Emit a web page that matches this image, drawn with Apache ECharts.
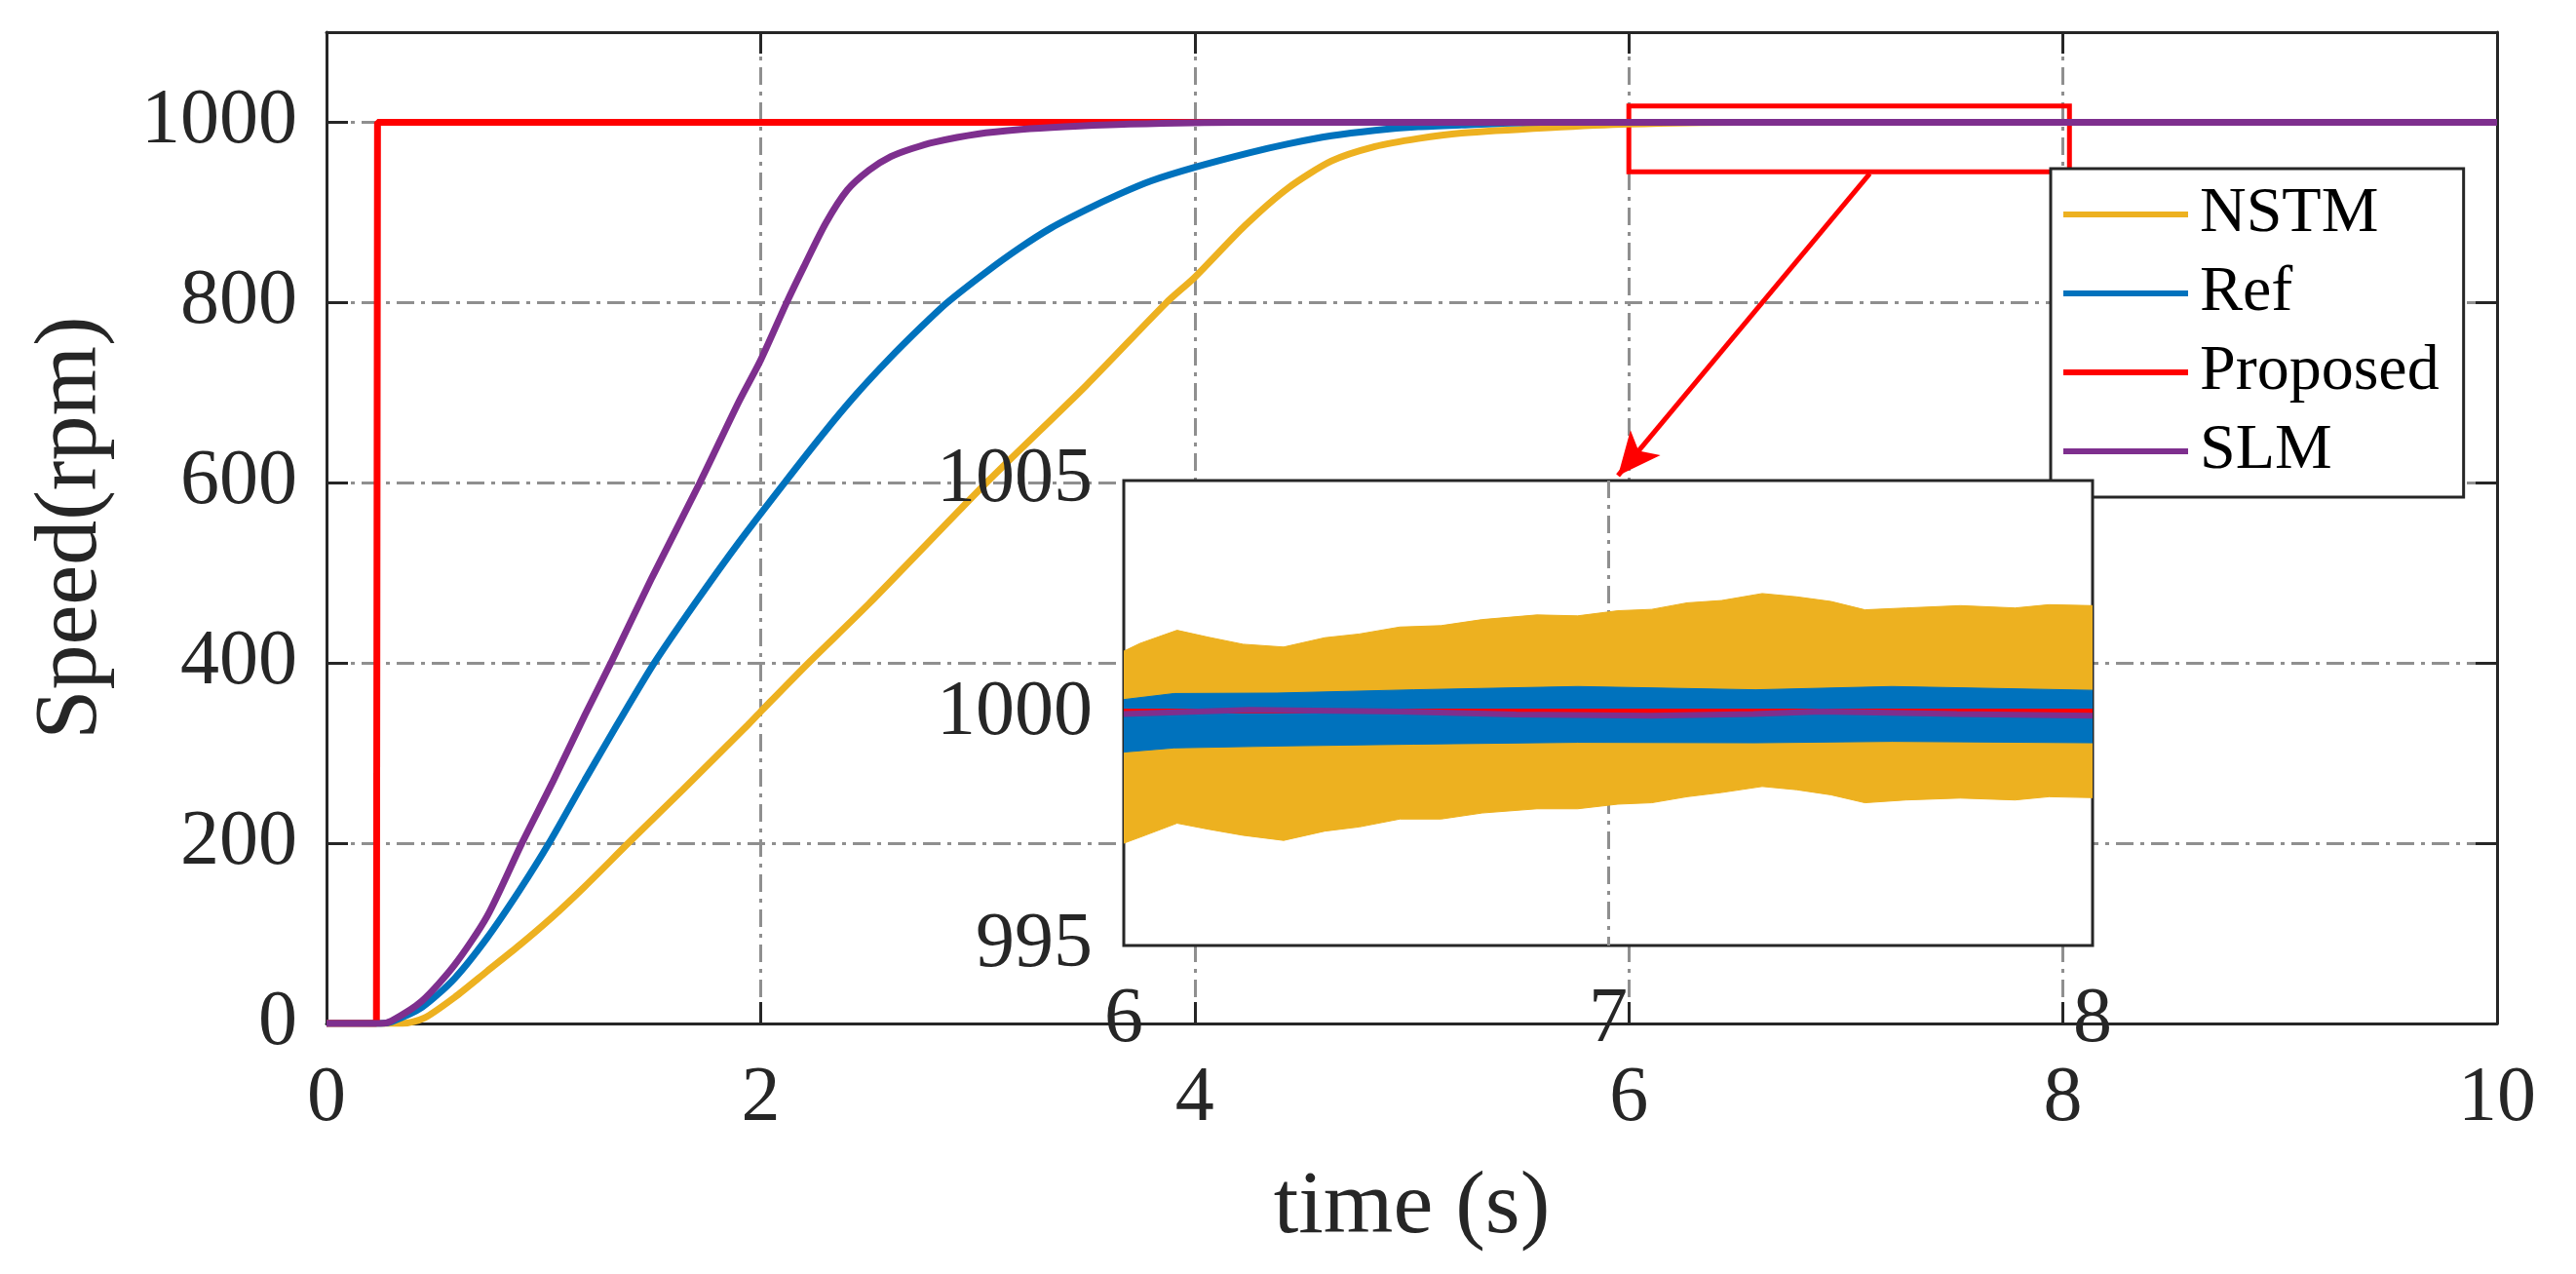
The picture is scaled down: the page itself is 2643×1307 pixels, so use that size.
<!DOCTYPE html>
<html>
<head>
<meta charset="utf-8">
<title>Speed response</title>
<script src="https://cdn.jsdelivr.net/npm/echarts@6/dist/echarts.min.js"></script>
<style>
html, body { margin: 0; padding: 0; background: #fff; }
#chart { width: 2643px; height: 1307px; }
</style>
</head>
<body>
<div id="chart"></div>
<script>
// speed curves, time in s and speed in rpm
var nstmT = [0, 0.35, 0.45, 0.59, 0.74, 0.89, 1.04, 1.19, 1.39, 1.64, 1.94, 2.0, 2.22, 2.5, 3.04, 3.5, 3.87, 4.0, 4.23, 4.43, 4.63, 4.83, 5.03, 5.23, 5.63, 6.0, 6.5, 10];
var nstmV = [0, 0, 6, 29, 58, 87, 118, 152, 200, 259, 331, 346, 400, 466, 600, 708, 800, 828, 885, 927, 957, 973, 982, 988, 994, 998, 1000, 1000];

var refT = [0, 0.25, 0.3, 0.44, 0.59, 0.74, 0.89, 1.025, 1.19, 1.34, 1.51, 1.7, 1.9, 2.11, 2.29, 2.44, 2.59, 2.74, 2.86, 3.04, 3.19, 3.34, 3.5, 3.65, 3.8, 4.0, 4.25, 4.43, 4.63, 4.83, 5.03, 5.23, 5.6, 10];
var refV = [0, 0, 2, 18, 50, 95, 148, 200, 270, 332, 400, 467, 534, 600, 655, 698, 737, 773, 800, 834, 860, 883, 903, 920, 935, 950, 966, 976, 985, 991, 995, 997, 1000, 1000];

var propT = [0, 0.23, 0.235, 10];
var propV = [0, 0, 1000, 1000];

var slmT = [0, 0.25, 0.3, 0.44, 0.59, 0.74, 0.9, 1.04, 1.19, 1.31, 1.5, 1.72, 1.9, 2.0, 2.12, 2.2, 2.3, 2.4, 2.5, 2.6, 2.7, 2.8, 3.0, 3.2, 3.4, 3.7, 4.2, 10];
var slmV = [0, 0, 3, 25, 65, 119, 200, 267, 342, 400, 495, 600, 690, 736, 800, 840, 888, 925, 947, 962, 971, 978, 987, 992, 995, 998, 1000, 1000];

// inset 6-8 s: ripple envelopes
var bandT = [6.0, 6.034, 6.11, 6.175, 6.246, 6.33, 6.415, 6.486, 6.57, 6.655, 6.74, 6.853, 6.937, 7.02, 7.09, 7.163, 7.234, 7.318, 7.389, 7.46, 7.53, 7.615, 7.727, 7.84, 7.91, 8.0];
var nstmHi = [1001.33, 1001.50, 1001.78, 1001.63, 1001.48, 1001.42, 1001.62, 1001.70, 1001.85, 1001.88, 1002.01, 1002.11, 1002.09, 1002.20, 1002.23, 1002.37, 1002.42, 1002.57, 1002.50, 1002.40, 1002.22, 1002.26, 1002.31, 1002.26, 1002.33, 1002.31];
var nstmLo = [997.20, 997.33, 997.63, 997.50, 997.37, 997.26, 997.46, 997.55, 997.72, 997.72, 997.85, 997.94, 997.94, 998.04, 998.07, 998.20, 998.29, 998.42, 998.35, 998.24, 998.07, 998.13, 998.17, 998.13, 998.20, 998.18];

var refBandT = [6.0, 6.104, 6.316, 6.598, 6.937, 7.304, 7.586, 8.0];
var refHi = [1000.29, 1000.42, 1000.43, 1000.50, 1000.57, 1000.50, 1000.57, 1000.49];
var refLo = [999.16, 999.25, 999.29, 999.33, 999.37, 999.36, 999.39, 999.36];

var propInT = [6.0, 8.0];
var propInV = [1000.04, 1000.04];

var slmInT = [6.0, 6.26, 6.57, 6.81, 7.09, 7.30, 7.44, 7.72, 8.0];
var slmInV = [999.98, 1000.07, 1000.03, 999.97, 999.94, 999.98, 1000.03, 999.98, 999.94];

// zoom marker on the main axes
var boxT = [6.0, 8.03];
var boxV = [1018, 945];
var arrowT = [7.11, 5.95];
var arrowV = [943, 608];

var names = ['NSTM', 'Ref', 'Proposed', 'SLM'];
var colors = ['#EDB120', '#0072BD', '#FF0000', '#7E2F8E'];

var FONT = "'Liberation Serif', 'Times New Roman', serif";
var INK = '#262626';
var gridDash = { color: '#8f8f8f', width: 3, type: [18, 7, 4, 7] };

function pairs(t, v) {
  return t.map(function (x, i) { return [x, v[i]]; });
}

var myChart = echarts.init(document.getElementById('chart'));

function mainLine(i, t, v, extra) {
  var s = {
    name: names[i],
    type: 'line',
    xAxisIndex: 0,
    yAxisIndex: 0,
    data: pairs(t, v),
    symbol: 'none',
    showSymbol: false,
    smooth: 0.25,
    lineStyle: { width: 7, color: colors[i] },
    itemStyle: { color: colors[i] },
    z: 2
  };
  return Object.assign(s, extra || {});
}

function insetLine(name, t, v, color, width) {
  return {
    name: name,
    type: 'line',
    xAxisIndex: 2,
    yAxisIndex: 2,
    data: pairs(t, v),
    symbol: 'none',
    showSymbol: false,
    silent: true,
    lineStyle: { width: width, color: color },
    itemStyle: { color: color },
    z: 11
  };
}

// filled band between lo and hi envelopes, drawn as one polygon in the inset axes
function bandSeries(name, t, lo, hi, color) {
  return {
    name: name,
    type: 'custom',
    coordinateSystem: 'cartesian2d',
    xAxisIndex: 2,
    yAxisIndex: 2,
    data: [[t[0], lo[0]]],
    silent: true,
    clip: true,
    z: 11,
    renderItem: function (params, api) {
      var pts = [];
      for (var i = 0; i < t.length; i++) pts.push(api.coord([t[i], hi[i]]));
      for (var j = t.length - 1; j >= 0; j--) pts.push(api.coord([t[j], lo[j]]));
      return { type: 'polygon', shape: { points: pts }, style: { fill: color, stroke: color, lineWidth: 1 } };
    }
  };
}

var tickStyle = { inside: true, length: 22, lineStyle: { color: INK, width: 3 } };
var lineStyleInk = { color: INK, width: 3 };

var option = {
  animation: false,
  backgroundColor: '#fff',
  textStyle: { fontFamily: FONT, color: INK },
  grid: [
    { left: 335, right: 81, top: 33, bottom: 257 },
    { left: 1153, top: 493, width: 994, height: 477, show: true, backgroundColor: '#fff',
      borderColor: INK, borderWidth: 3, z: 10 }
  ],
  legend: {
    data: names,
    orient: 'vertical',
    left: 2104,
    top: 173,
    padding: [14, 25, 14, 13],
    itemGap: 15,
    itemWidth: 128,
    itemHeight: 6,
    icon: 'rect',
    selectedMode: false,
    backgroundColor: '#fff',
    borderColor: INK,
    borderWidth: 3,
    borderRadius: 0,
    z: 5,
    textStyle: { fontFamily: FONT, fontSize: 66, color: '#000', lineHeight: 66, padding: [0, 0, 0, 7] }
  },
  xAxis: [
    {
      type: 'value', gridIndex: 0, min: 0, max: 10, interval: 2,
      name: 'time (s)', nameLocation: 'middle', nameGap: 144,
      nameTextStyle: { fontFamily: FONT, fontSize: 92, color: INK },
      axisLine: { show: true, onZero: false, lineStyle: lineStyleInk },
      axisTick: tickStyle,
      axisLabel: { fontFamily: FONT, fontSize: 80, color: INK, margin: 38 },
      splitLine: { show: true, showMinLine: false, showMaxLine: false, lineStyle: gridDash }
    },
    {
      type: 'value', gridIndex: 0, min: 0, max: 10, interval: 2, position: 'top',
      axisLine: { show: true, onZero: false, lineStyle: lineStyleInk },
      axisTick: tickStyle,
      axisLabel: { show: false },
      splitLine: { show: false }
    },
    {
      type: 'value', gridIndex: 1, min: 6, max: 8, interval: 1, z: 10,
      axisLine: { show: false, onZero: false },
      axisTick: { show: false },
      axisLabel: { fontFamily: FONT, fontSize: 80, color: INK, margin: 37 },
      splitLine: { show: true, showMinLine: false, showMaxLine: false, lineStyle: gridDash }
    }
  ],
  yAxis: [
    {
      type: 'value', gridIndex: 0, min: 0, max: 1100, interval: 200,
      name: 'Speed(rpm)', nameLocation: 'middle', nameGap: 215,
      nameTextStyle: { fontFamily: FONT, fontSize: 92, color: INK },
      axisLine: { show: true, onZero: false, lineStyle: lineStyleInk },
      axisTick: Object.assign({ show: true }, tickStyle),
      axisLabel: {
        fontFamily: FONT, fontSize: 80, color: INK, margin: 30,
        formatter: function (v) { return v > 1000 ? '' : String(v); }
      },
      splitLine: { show: true, showMinLine: false, showMaxLine: false, lineStyle: gridDash }
    },
    {
      type: 'value', gridIndex: 0, min: 0, max: 1100, interval: 200, position: 'right',
      axisLine: { show: true, onZero: false, lineStyle: lineStyleInk },
      axisTick: Object.assign({ show: true }, tickStyle),
      axisLabel: { show: false },
      splitLine: { show: false }
    },
    {
      type: 'value', gridIndex: 1, min: 995, max: 1005, interval: 5, z: 10,
      axisLine: { show: false, onZero: false },
      axisTick: { show: false },
      axisLabel: {
        fontFamily: FONT, fontSize: 80, color: INK, margin: 32,
        formatter: function (v) { return String(v); }
      },
      splitLine: { show: true, showMinLine: false, showMaxLine: false, lineStyle: gridDash }
    }
  ],
  series: [
    mainLine(0, nstmT, nstmV),
    mainLine(1, refT, refV),
    mainLine(2, propT, propV, { smooth: false }),
    mainLine(3, slmT, slmV, {
      markArea: {
        silent: true,
        itemStyle: { color: 'rgba(0,0,0,0)', borderColor: '#FF0000', borderWidth: 5 },
        data: [[{ coord: [boxT[0], boxV[0]] }, { coord: [boxT[1], boxV[1]] }]]
      },
      markLine: {
        silent: true,
        symbol: ['none', 'arrow'],
        symbolSize: [30, 44],
        label: { show: false },
        lineStyle: { color: '#FF0000', width: 5, type: 'solid' },
        data: [[{ coord: [arrowT[0], arrowV[0]] }, { coord: [arrowT[1], arrowV[1]] }]]
      }
    }),
    bandSeries('nstm-band', bandT, nstmLo, nstmHi, '#EDB120'),
    bandSeries('ref-band', refBandT, refLo, refHi, '#0072BD'),
    insetLine('prop-in', propInT, propInV, '#FF0000', 5),
    insetLine('slm-in', slmInT, slmInV, '#7E2F8E', 6)
  ]
};

myChart.setOption(option);
</script>
</body>
</html>
